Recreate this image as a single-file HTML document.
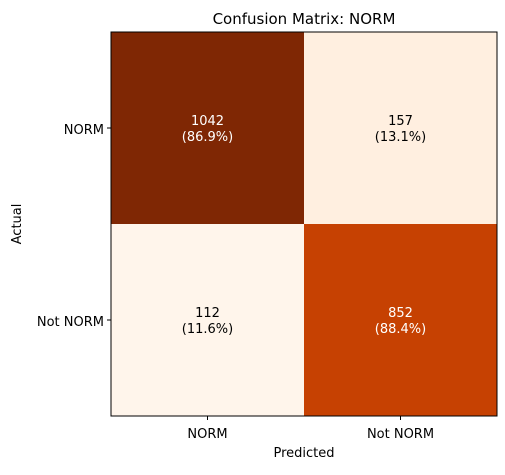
<!DOCTYPE html>
<html><head><meta charset="utf-8"><style>
body{margin:0;background:#fff;font-family:"Liberation Sans","DejaVu Sans",sans-serif}
svg text{font-family:"DejaVu Sans","Liberation Sans",sans-serif}
</style></head><body>
<svg id="chart" width="505" height="470"></svg>
<script>
const actualLabels=["NORM","Not NORM"];
const predictedLabels=["NORM","Not NORM"];
const counts=[[1042,157],[112,852]];
const percents=["86.9%","13.1%","11.6%","88.4%"];
const stops=["#fff5eb","#fee6ce","#fdd0a2","#fdae6b","#fd8d3c","#f16913","#d94801","#a63603","#7f2704"];
const svg=document.getElementById('chart');
const NS="http://www.w3.org/2000/svg";
const L=111,T=32,W=386,H=384;
const n=predictedLabels.length;
const cw=W/n,ch=H/actualLabels.length;
const flat=counts.flat();const vmin=Math.min(...flat),vmax=Math.max(...flat);
function hex(h){return [1,3,5].map(i=>parseInt(h.substr(i,2),16));}
function cmap(t){const p=t*(stops.length-1);const i=Math.min(Math.floor(p),stops.length-2);const f=p-i;const a=hex(stops[i]),b=hex(stops[i+1]);return `rgb(${a.map((v,k)=>Math.round(v+(b[k]-v)*f)).join(',')})`;}
function el(tag,attrs,txt){const e=document.createElementNS(NS,tag);for(const k in attrs)e.setAttribute(k,attrs[k]);if(txt!==undefined)e.textContent=txt;svg.appendChild(e);return e;}
const xS=j=>L+cw*j, yS=i=>T+ch*i;
counts.forEach((row,i)=>row.forEach((v,j)=>{
 const t=(v-vmin)/(vmax-vmin);
 const r=el('rect',{x:xS(j),y:yS(i),width:cw,height:ch,fill:cmap(t)});
 
 
 const col=t>0.5?'#fff':'#000';
 const tx=el('text',{x:xS(j)+cw/2,y:yS(i)+ch/2-3,'text-anchor':'middle','font-size':13,fill:col},String(v));
 
 
 const tp=el('text',{x:xS(j)+cw/2,y:yS(i)+ch/2+13,'text-anchor':'middle','font-size':13,fill:col},'('+percents[i*n+j]+')');
 
 
}));
const fr=el('rect',{x:L,y:T,width:W,height:H,fill:'none',stroke:'#000','stroke-width':1});


actualLabels.forEach((s,i)=>{
 const y=yS(i)+ch/2;
 el('line',{x1:L-4,x2:L,y1:y,y2:y,stroke:'#000'});
 const t=el('text',{x:L-7,y:y+6,'text-anchor':'end','font-size':13},s);
 
 
});
predictedLabels.forEach((s,j)=>{
 const x=xS(j)+cw/2;
 el('line',{x1:x,x2:x,y1:T+H,y2:T+H+4,stroke:'#000'});
 const t=el('text',{x:x,y:T+H+22,'text-anchor':'middle','font-size':13},s);
 
 
});
const ti=el('text',{x:L+W/2,y:24,'text-anchor':'middle','font-size':15},'Confusion Matrix: NORM');


const xl=el('text',{x:L+W/2,y:457,'text-anchor':'middle','font-size':13},'Predicted');


const yl=el('text',{x:0,y:0,'text-anchor':'middle','font-size':13,transform:`translate(21,${T+H/2}) rotate(-90)`},'Actual');


</script>
</body></html>
